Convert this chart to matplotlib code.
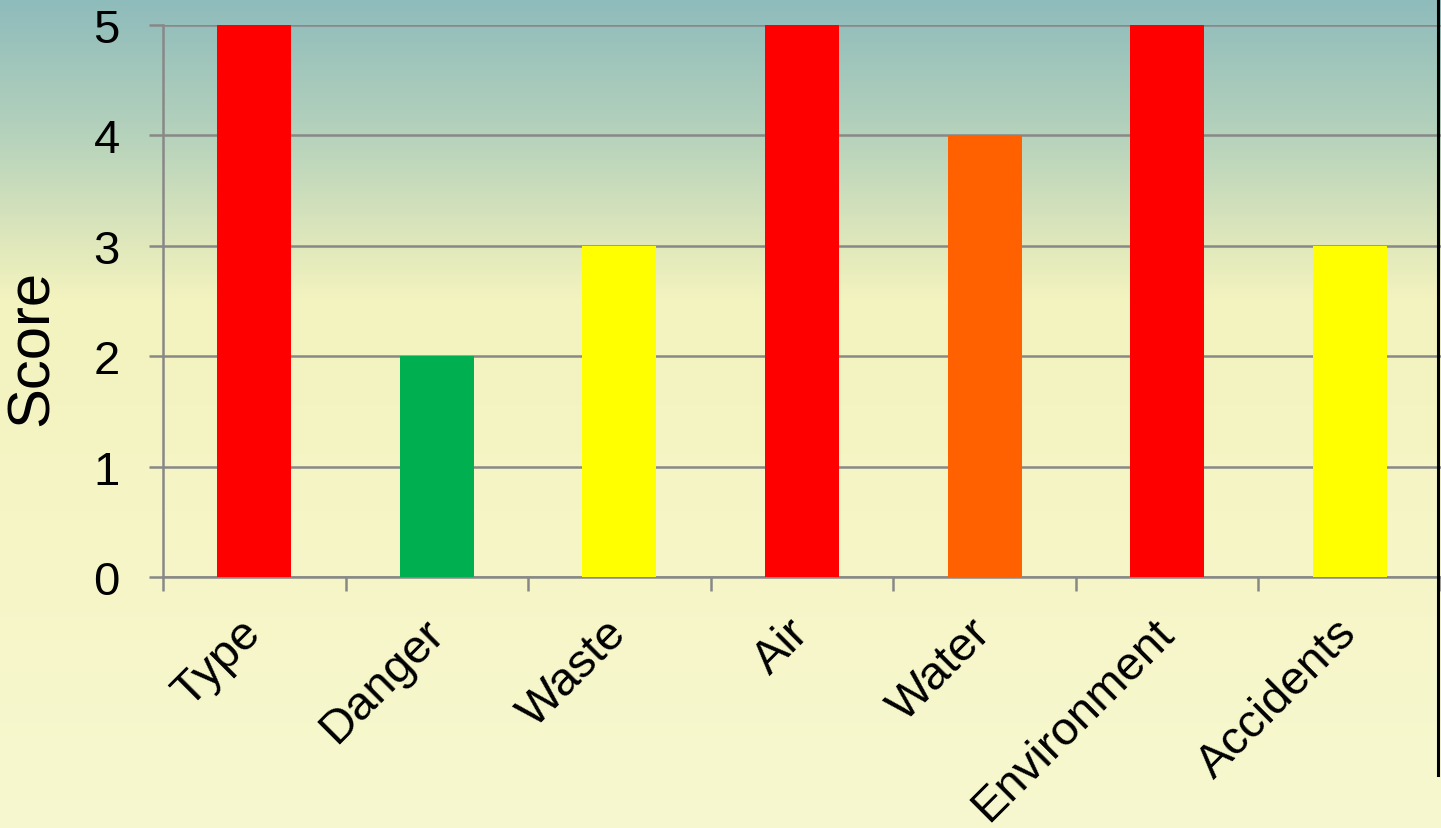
import matplotlib
matplotlib.use('Agg')
import matplotlib.pyplot as plt
import numpy as np
from matplotlib.lines import Line2D

plt.rcParams['font.family'] = ['Liberation Sans', 'DejaVu Sans']

categorias = ['Type', 'Danger', 'Waste', 'Air', 'Water', 'Environment', 'Accidents']
pontuacao = [5, 2, 3, 5, 4, 5, 3]
cores = ['#ff0000', '#00b050', '#ffff00', '#ff0000', '#ff6000', '#ff0000', '#ffff00']

W, H = 1441, 829
fig = plt.figure(figsize=(W / 100, H / 100), dpi=100)

# fundo em degradê (teal em cima, amarelo claro embaixo)
fundo = fig.add_axes([0, 0, 1, 1], zorder=-10)
linhas = np.arange(H)
paradas = [0, 135, 245, 300, H]
rgb = np.array([[0x8e, 0xbb, 0xbb], [0xb5, 0xd2, 0xbb], [0xe0, 0xe8, 0xbb],
                [0xf3, 0xf3, 0xbf], [0xf8, 0xf8, 0xd0]]) / 255
grad = np.stack([np.interp(linhas, paradas, rgb[:, k]) for k in range(3)], axis=-1)
fundo.imshow(grad[:, None, :], aspect='auto', extent=[0, 1, 0, 1])
fundo.axis('off')

ax = fig.add_axes([163 / W, 1 - 578 / H, (W - 163) / W, (578 - 26) / H])
ax.set_facecolor('none')

x = np.arange(len(categorias))
ax.bar(x, pontuacao, width=0.405, color=cores, zorder=3)

ax.set_xlim(-0.5, len(categorias) - 0.5)
ax.set_ylim(0, 5)
ax.set_yticks(range(0, 6))
ax.set_xticks(x)
ax.set_xticklabels(categorias, rotation=45, ha='right', va='center',
                   rotation_mode='anchor', fontsize=34)
ax.set_xticks(np.arange(-0.5, len(categorias)), minor=True)

cinza = '#888888'
ax.tick_params(axis='x', which='major', length=0, pad=35)
ax.tick_params(axis='x', which='minor', length=10, width=1.8, color=cinza)
ax.tick_params(axis='y', length=10, width=1.8, color=cinza, pad=21, labelsize=34)
ax.grid(axis='y', color=cinza, linewidth=1.8, zorder=0)
ax.set_axisbelow(True)

for lado in ['top', 'right']:
    ax.spines[lado].set_visible(False)
for lado in ['left', 'bottom']:
    ax.spines[lado].set_color(cinza)
    ax.spines[lado].set_linewidth(1.8)

ax.set_ylabel('Score', fontsize=43)
ax.yaxis.set_label_coords(-0.081, 0.4167)

# linha vertical preta na borda direita
fig.add_artist(Line2D([1438 / W, 1438 / W], [1 - 776 / H, 1], color='black', linewidth=2.2))

plt.savefig('out.png', dpi=100)
plt.close()
